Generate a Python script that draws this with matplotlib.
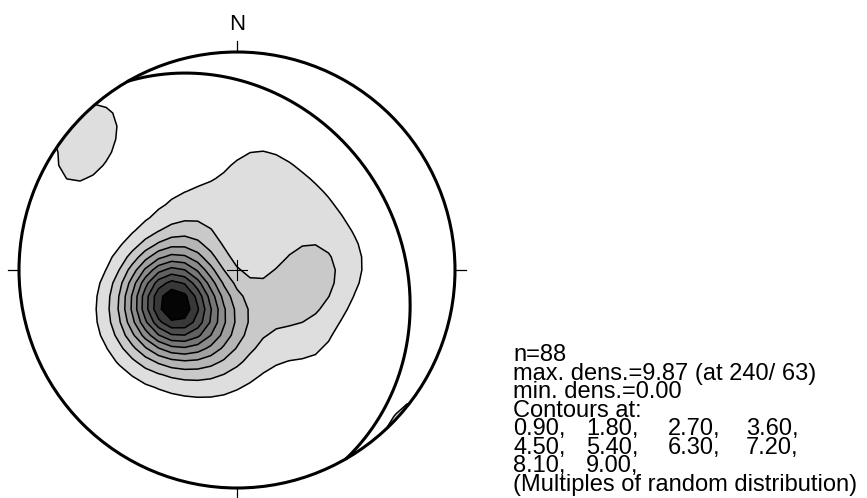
import numpy as np
import matplotlib
matplotlib.use('Agg')
from matplotlib import pyplot as plt
from matplotlib.patches import Circle

# pole orientations (trend / plunge, degrees) and number of measurements at each
pole_trend = [240, 259, 215, 194, 274, 245, 227, 188, 320,
              108, 86, 136, 142,
              12, 50, 85, 137, 156, 197, 323, 36, 354,
              314, 306]
pole_plunge = [63, 60, 62, 71, 70, 45, 45, 56, 68,
               65, 61, 56, 76,
               49, 49, 47, 31, 30, 42, 47, 62, 64,
               5, 16]
pole_count = [24, 6, 5, 4, 5, 3, 3, 3, 3,
              5, 3, 2, 2,
              3, 2, 2, 2, 1, 1, 1, 2, 1,
              3, 3]

contour_levels = [0.90, 1.80, 2.70, 3.60, 4.50, 5.40, 6.30, 7.20, 8.10, 9.00]

# great circle (dip direction / dip)
plane_dipdir = 60
plane_dip = 26

n_total = 88
max_dens = 9.87
max_at = (240, 63)
min_dens = 0.00


def to_vector(trend, plunge):
    t = np.radians(trend)
    p = np.radians(plunge)
    return np.stack([np.cos(p) * np.sin(t), np.cos(p) * np.cos(t), np.sin(p)], axis=-1)


def project(trend, plunge):
    # lower hemisphere, equal area (Schmidt)
    r = np.sqrt(2) * np.sin(np.radians(90 - np.asarray(plunge)) / 2)
    t = np.radians(trend)
    return r * np.sin(t), r * np.cos(t)


def density_grid(n_cells=35, kappa=24.0):
    xs = np.linspace(-1.02, 1.02, n_cells)
    X, Y = np.meshgrid(xs, xs)
    r = np.clip(np.hypot(X, Y), 0, 1)
    plunge = 90 - 2 * np.degrees(np.arcsin(r / np.sqrt(2)))
    trend = np.degrees(np.arctan2(X, Y))
    nodes = to_vector(trend, plunge)
    poles = to_vector(np.array(pole_trend), np.array(pole_plunge))
    w = np.array(pole_count, dtype=float)
    c = np.abs(nodes @ poles.T)
    g = kappa * np.exp(kappa * (c - 1)) / (1 - np.exp(-kappa))
    dens = (g * w).sum(axis=-1) / w.sum()
    return X, Y, dens


def great_circle(dipdir, dip, n=200):
    strike = to_vector(dipdir - 90, 0)
    down = to_vector(dipdir, dip)
    a = np.radians(np.linspace(0, 180, n))[:, None]
    v = strike * np.cos(a) + down * np.sin(a)
    v[v[:, 2] < 0] *= -1
    trend = np.degrees(np.arctan2(v[:, 0], v[:, 1]))
    plunge = np.degrees(np.arcsin(np.clip(v[:, 2], -1, 1)))
    return project(trend, plunge)


W, H = 867, 498
cx, cy, R = 237, 270, 218
L = 1.25

fig = plt.figure(figsize=(W / 100, H / 100), dpi=100)
ax = fig.add_axes([(cx - L * R) / W, (H - cy - L * R) / H, 2 * L * R / W, 2 * L * R / H])
ax.set_xlim(-L, L)
ax.set_ylim(-L, L)
ax.set_aspect('equal')
ax.axis('off')

X, Y, dens = density_grid()
greys = np.linspace(0.87, 0.22, 9).tolist() + [0.02]
fills = [str(round(g, 3)) for g in greys]
clip = Circle((0, 0), 1, transform=ax.transData)

cf = ax.contourf(X, Y, dens, levels=contour_levels + [1e6], colors=fills)
cf.set_clip_path(clip)
cl = ax.contour(X, Y, dens, levels=contour_levels, colors='k', linewidths=1.1)
cl.set_clip_path(clip)

gx, gy = great_circle(plane_dipdir, plane_dip)
ax.plot(gx, gy, color='k', lw=2.2, solid_capstyle='round')

ax.add_patch(Circle((0, 0), 1, fill=False, ec='k', lw=2.2))

# cardinal ticks and centre cross
for dx, dy in [(0, 1), (1, 0), (0, -1), (-1, 0)]:
    ax.plot([dx * 1.0, dx * 1.05], [dy * 1.0, dy * 1.05], color='k', lw=0.9)
ax.plot([-0.045, 0.045], [0, 0], color='k', lw=0.8)
ax.plot([0, 0], [-0.045, 0.045], color='k', lw=0.8)
ax.text(0, 1.125, 'N', ha='center', va='center', fontsize=16, family='Liberation Sans')

# statistics block
font = dict(fontsize=17, family='Liberation Sans', va='baseline', ha='left')
x0 = 513 / W
pitch = 18.5
base = 361
header = [f'n={n_total}',
          f'max. dens.={max_dens:.2f} (at {max_at[0]}/ {max_at[1]})',
          f'min. dens.={min_dens:.2f}',
          'Contours at:']
for i, line in enumerate(header):
    fig.text(x0, (H - base - i * pitch) / H, line, **font)

cols = [513, 586, 668, 746]
for k, v in enumerate(contour_levels):
    row, col = divmod(k, 4)
    fig.text(cols[col] / W, (H - base - (4 + row) * pitch) / H, f'{v:.2f},', **font)
fig.text(x0, (H - base - 7 * pitch) / H, '(Multiples of random distribution)', **font)

fig.savefig('out.png', dpi=100)
